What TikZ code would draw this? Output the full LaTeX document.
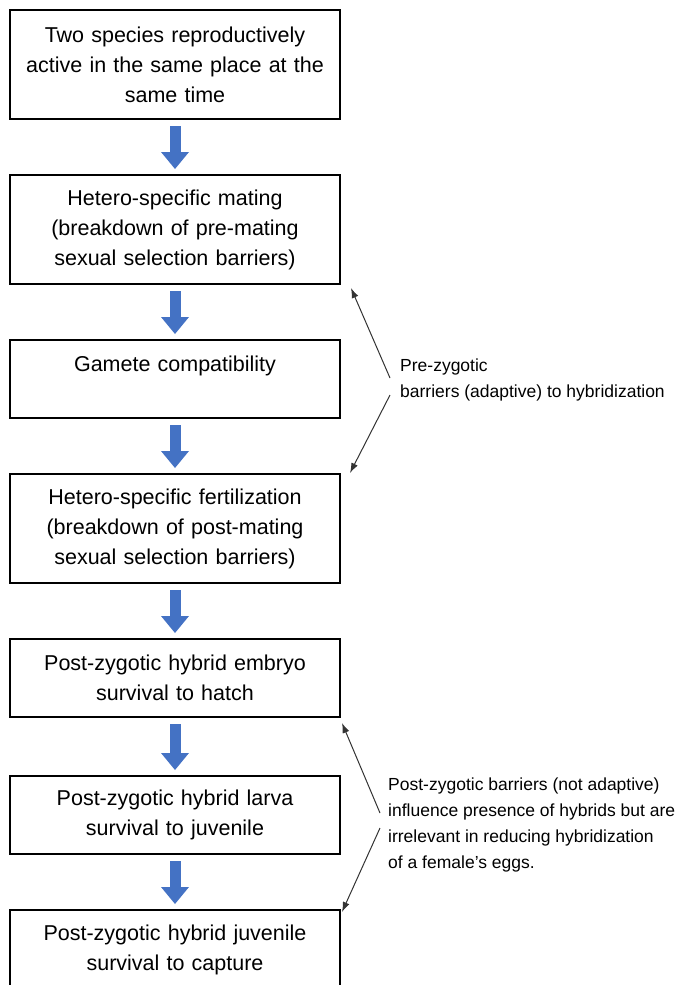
\documentclass[tikz,border=0pt]{standalone}
\usepackage{fontspec}
\setmainfont{Liberation Sans}
\usetikzlibrary{arrows.meta, positioning}
\definecolor{flowblue}{HTML}{4472C4}
\definecolor{notegray}{HTML}{333333}
\tikzset{
  stage/.style={draw=black, line width=2.5pt, minimum width=330pt, text width=310pt,
                align=center, inner sep=0pt, outer sep=0pt, font=\fontsize{21.5}{30}\selectfont},
  tallstage/.style={stage, minimum height=109pt},
  shortstage/.style={stage, minimum height=78pt},
  note/.style={align=left, inner sep=0pt, font=\fontsize{17.5}{26}\selectfont},
  flowdown/.style={line width=11pt, draw=flowblue,
                   -{Triangle[length=17pt, width=28pt, line width=0pt]},
                   shorten <=7pt, shorten >=6pt},
  pointer/.style={line width=1pt, draw=notegray, -{Latex[length=10pt, width=7pt]}},
}

\begin{document}
\begin{tikzpicture}[x=1pt, y=1pt, node distance=56pt]
  \useasboundingbox (0,0) rectangle (682,-985);

  % chain of stages
  \node (s1) [tallstage, anchor=north] at (175,-10) {Two species reproductively\\active in the same place at the\\same time};
  \node (s2) [tallstage, below=of s1] {Hetero-specific mating\\(breakdown of pre-mating\\sexual selection barriers)};
  \node (s3) [shortstage, below=of s2] {Gamete compatibility\\\mbox{}};
  \node (s4) [tallstage, below=of s3] {Hetero-specific fertilization\\(breakdown of post-mating\\sexual selection barriers)};
  \node (s5) [shortstage, below=of s4] {Post-zygotic hybrid embryo\\survival to hatch};
  \node (s6) [shortstage, below=59pt of s5] {Post-zygotic hybrid larva\\survival to juvenile};
  \node (s7) [shortstage, minimum height=80pt, below=of s6] {Post-zygotic hybrid juvenile\\survival to capture};

  \foreach \a/\b in {s1/s2, s2/s3, s3/s4, s4/s5, s5/s6, s6/s7}
    \draw[flowdown] (\a) -- (\b);

  % side notes
  \node (prez) [note, anchor=west] at (400,-380) {Pre-zygotic\\barriers (adaptive) to hybridization};
  \node (postz) [note, anchor=west] at (388,-825) {Post-zygotic barriers (not adaptive)\\influence presence of hybrids but are\\irrelevant in reducing hybridization\\of a female’s eggs.};

  \draw[pointer] ([shift={(-10,2)}]prez.west) -- ([shift={(11,-4)}]s2.south east);
  \draw[pointer] ([shift={(-10,-15)}]prez.west) -- ([shift={(10,1)}]s4.north east);
  \draw[pointer] ([shift={(-8,12)}]postz.west) -- ([shift={(2,-6)}]s5.south east);
  \draw[pointer] ([shift={(-8,-3)}]postz.west) -- ([shift={(2,-2)}]s7.north east);
\end{tikzpicture}
\end{document}
